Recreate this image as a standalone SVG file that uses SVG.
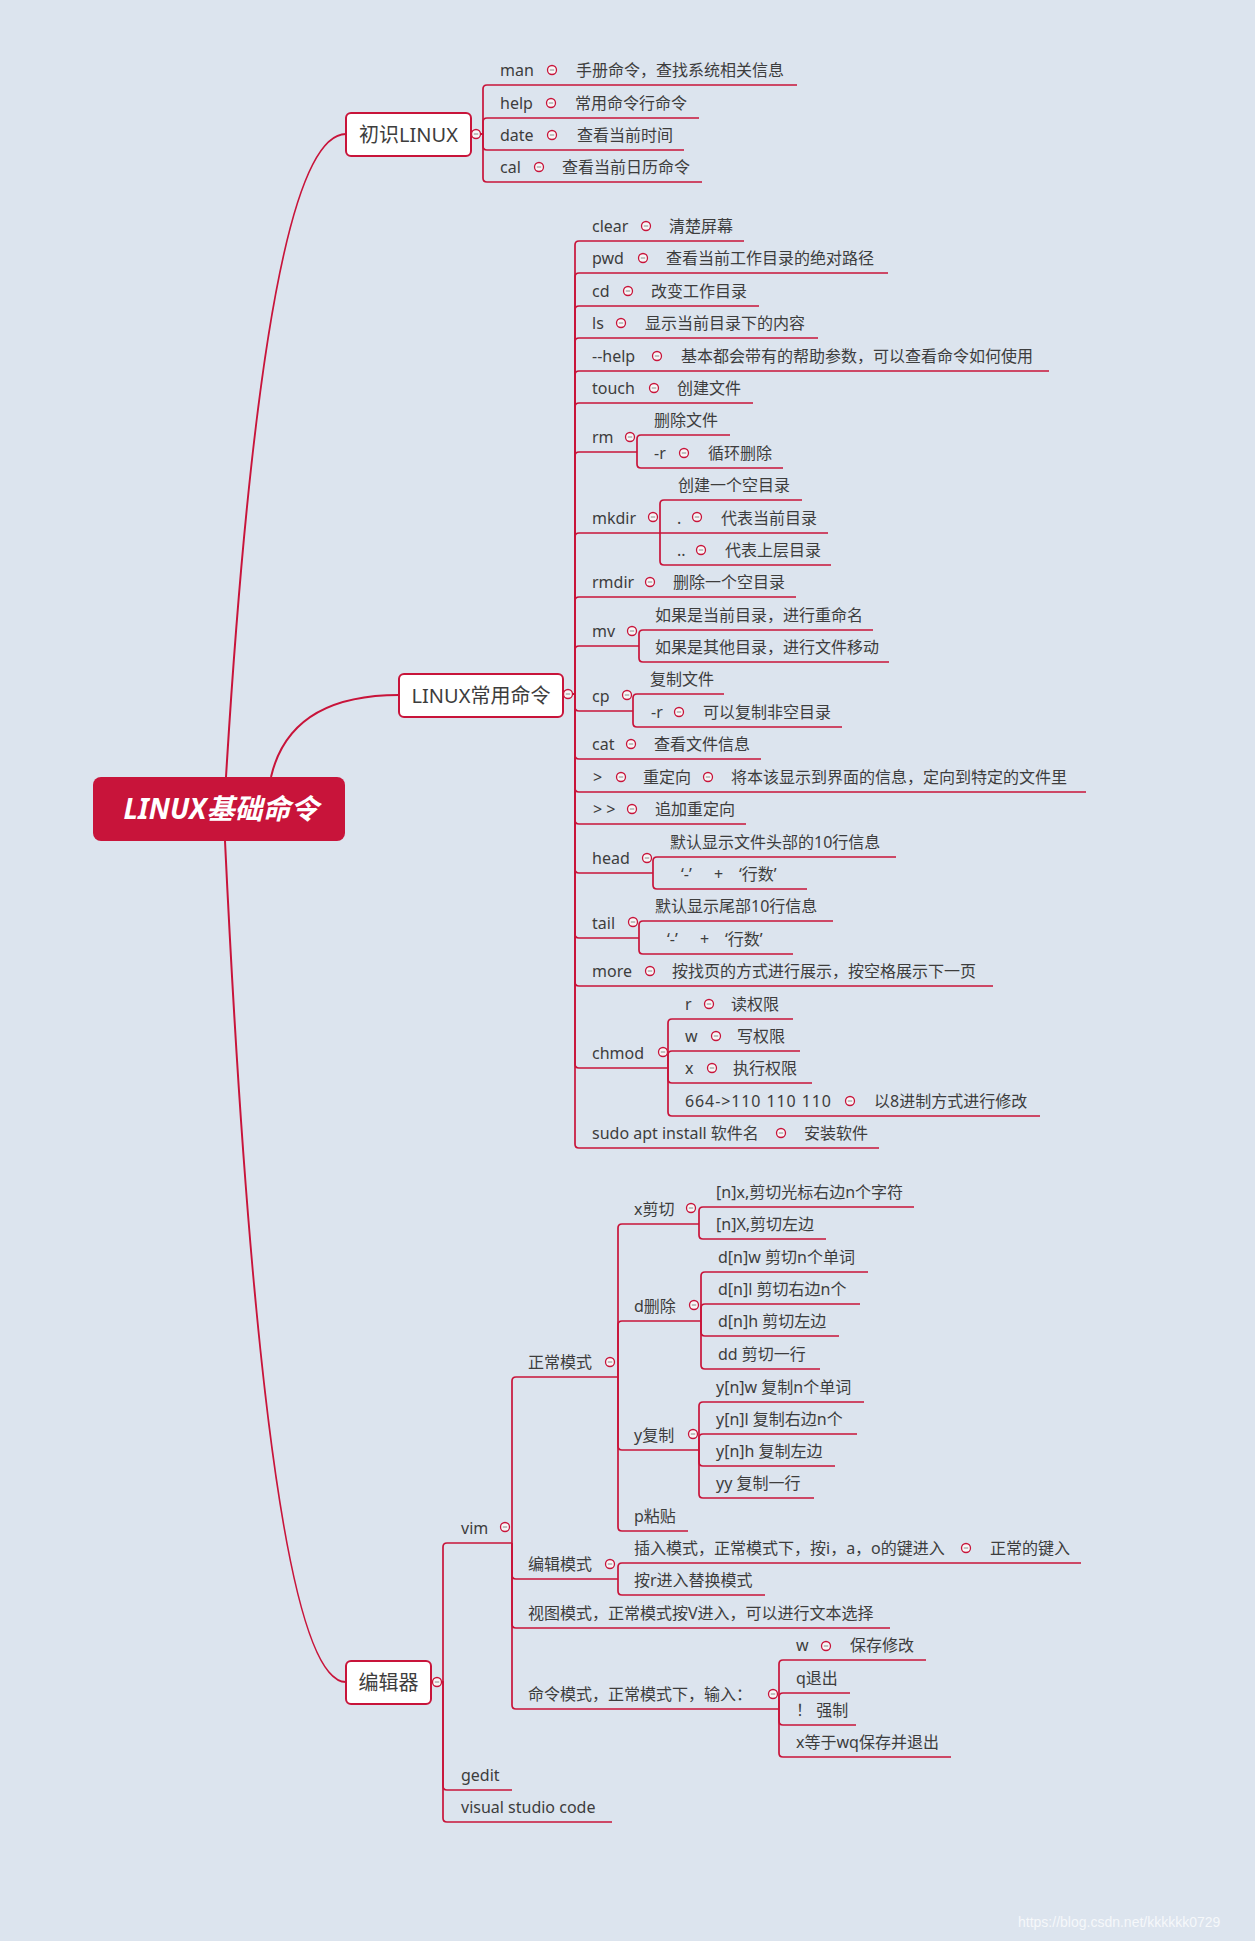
<svg xmlns="http://www.w3.org/2000/svg" xmlns:xlink="http://www.w3.org/1999/xlink" width="1255" height="1941" viewBox="0 0 1255 1941">
<style>
.t{font-family:"Noto Sans","Noto Sans CJK SC",sans-serif;font-size:16px;fill:#3d3d3d}
.b{font-size:20px;text-anchor:middle}
.box{fill:#fff;stroke:#C8143A;stroke-width:2}
.ln{fill:none;stroke:#C8143A;stroke-width:1.7}
.cv{fill:none;stroke:#C8143A;stroke-width:2}
.rt{font-family:"Noto Sans","Noto Sans CJK SC",sans-serif;font-size:28px;font-weight:bold;font-style:italic;fill:#fff;text-anchor:middle}
.wm{font-family:"Liberation Sans",Arial,sans-serif;font-size:14px;fill:#fff;fill-opacity:0.75}
</style>
<defs>
<g id="col"><circle r="4.5" fill="#f7f7f7" stroke="#C8143A" stroke-width="1.3"/><line x1="-2.2" x2="2.2" y1="0" y2="0" stroke="#8a8a8a" stroke-width="1"/></g>
</defs>
<rect width="1255" height="1941" fill="#DCE4EE"/>

<g id="connectors">
<path class="cv" d="M226 777 Q265 134 346 134"/>
<path class="cv" d="M271 777 Q290 695 399 695"/>
<path class="cv" d="M225 841 Q265 1682 346 1682"/>
<path class="ln" d="M481 134 H483 V89 Q483 85 487 85 H797"/>
<path class="ln" d="M481 134 H483 V122 Q483 118 487 118 H699"/>
<path class="ln" d="M481 134 H483 V146 Q483 150 487 150 H684"/>
<path class="ln" d="M481 134 H483 V178 Q483 182 487 182 H702"/>
<path class="ln" d="M573 694 H575 V245 Q575 241 579 241 H744"/>
<path class="ln" d="M573 694 H575 V277 Q575 273 579 273 H888"/>
<path class="ln" d="M573 694 H575 V310 Q575 306 579 306 H759"/>
<path class="ln" d="M573 694 H575 V342 Q575 338 579 338 H818"/>
<path class="ln" d="M573 694 H575 V375 Q575 371 579 371 H1049"/>
<path class="ln" d="M573 694 H575 V407 Q575 403 579 403 H753"/>
<path class="ln" d="M573 694 H575 V456 Q575 452 579 452 H637"/>
<path class="ln" d="M573 694 H575 V537 Q575 533 579 533 H660"/>
<path class="ln" d="M573 694 H575 V601 Q575 597 579 597 H796"/>
<path class="ln" d="M573 694 H575 V650 Q575 646 579 646 H639"/>
<path class="ln" d="M573 694 H575 V707 Q575 711 579 711 H633"/>
<path class="ln" d="M573 694 H575 V755 Q575 759 579 759 H761"/>
<path class="ln" d="M573 694 H575 V788 Q575 792 579 792 H1086"/>
<path class="ln" d="M573 694 H575 V820 Q575 824 579 824 H746"/>
<path class="ln" d="M573 694 H575 V869 Q575 873 579 873 H653"/>
<path class="ln" d="M573 694 H575 V934 Q575 938 579 938 H639"/>
<path class="ln" d="M573 694 H575 V982 Q575 986 579 986 H993"/>
<path class="ln" d="M573 694 H575 V1064 Q575 1068 579 1068 H668"/>
<path class="ln" d="M573 694 H575 V1144 Q575 1148 579 1148 H879"/>
<path class="ln" d="M637 452 V439 Q637 435 641 435 H730"/>
<path class="ln" d="M637 452 V464 Q637 468 641 468 H783"/>
<path class="ln" d="M660 533 V504 Q660 500 664 500 H802"/>
<path class="ln" d="M660 533 H828"/>
<path class="ln" d="M660 533 V561 Q660 565 664 565 H831"/>
<path class="ln" d="M639 646 V634 Q639 630 643 630 H873"/>
<path class="ln" d="M639 646 V658 Q639 662 643 662 H889"/>
<path class="ln" d="M633 711 V698 Q633 694 637 694 H724"/>
<path class="ln" d="M633 711 V723 Q633 727 637 727 H842"/>
<path class="ln" d="M653 873 V861 Q653 857 657 857 H896"/>
<path class="ln" d="M653 873 V885 Q653 889 657 889 H807"/>
<path class="ln" d="M639 938 V925 Q639 921 643 921 H833"/>
<path class="ln" d="M639 938 V950 Q639 954 643 954 H793"/>
<path class="ln" d="M668 1068 V1023 Q668 1019 672 1019 H793"/>
<path class="ln" d="M668 1068 V1055 Q668 1051 672 1051 H800"/>
<path class="ln" d="M668 1068 V1079 Q668 1083 672 1083 H812"/>
<path class="ln" d="M668 1068 V1112 Q668 1116 672 1116 H1040"/>
<path class="ln" d="M442 1682 H443 V1547 Q443 1543 447 1543 H512"/>
<path class="ln" d="M442 1682 H443 V1786 Q443 1790 447 1790 H512"/>
<path class="ln" d="M442 1682 H443 V1818 Q443 1822 447 1822 H612"/>
<path class="ln" d="M512 1543 V1381 Q512 1377 516 1377 H618"/>
<path class="ln" d="M512 1543 V1575 Q512 1579 516 1579 H618"/>
<path class="ln" d="M512 1543 V1624 Q512 1628 516 1628 H890"/>
<path class="ln" d="M512 1543 V1705 Q512 1709 516 1709 H779"/>
<path class="ln" d="M618 1377 V1228 Q618 1224 622 1224 H699"/>
<path class="ln" d="M618 1377 V1325 Q618 1321 622 1321 H701"/>
<path class="ln" d="M618 1377 V1446 Q618 1450 622 1450 H699"/>
<path class="ln" d="M618 1377 V1527 Q618 1531 622 1531 H688"/>
<path class="ln" d="M699 1224 V1211 Q699 1207 703 1207 H914"/>
<path class="ln" d="M699 1224 V1235 Q699 1239 703 1239 H826"/>
<path class="ln" d="M701 1321 V1276 Q701 1272 705 1272 H868"/>
<path class="ln" d="M701 1321 V1308 Q701 1304 705 1304 H860"/>
<path class="ln" d="M701 1321 V1332 Q701 1336 705 1336 H839"/>
<path class="ln" d="M701 1321 V1365 Q701 1369 705 1369 H820"/>
<path class="ln" d="M699 1450 V1406 Q699 1402 703 1402 H864"/>
<path class="ln" d="M699 1450 V1438 Q699 1434 703 1434 H857"/>
<path class="ln" d="M699 1450 V1462 Q699 1466 703 1466 H835"/>
<path class="ln" d="M699 1450 V1494 Q699 1498 703 1498 H814"/>
<path class="ln" d="M618 1579 V1567 Q618 1563 622 1563 H1081"/>
<path class="ln" d="M618 1579 V1591 Q618 1595 622 1595 H765"/>
<path class="ln" d="M779 1709 V1664 Q779 1660 783 1660 H926"/>
<path class="ln" d="M779 1709 V1697 Q779 1693 783 1693 H850"/>
<path class="ln" d="M779 1709 V1721 Q779 1725 783 1725 H856"/>
<path class="ln" d="M779 1709 V1753 Q779 1757 783 1757 H951"/>
</g>

<g id="root">
<rect x="93" y="777" width="252" height="64" rx="8" fill="#C8143A"/>
<text class="rt" x="221" y="819">LINUX基础命令</text>
</g>

<g id="n-chushi">
<rect class="box" x="346" y="113" width="125" height="43" rx="5"/>
<text class="t b" x="408.5" y="141.5">初识LINUX</text>
<use xlink:href="#col" x="476" y="134"/>
</g>
<g id="n-man"><text class="t" x="500" y="76">man</text><use xlink:href="#col" x="552" y="70"/><text class="t" x="576" y="76">手册命令，查找系统相关信息</text></g>
<g id="n-help"><text class="t" x="500" y="109">help</text><use xlink:href="#col" x="551" y="103"/><text class="t" x="575" y="109">常用命令行命令</text></g>
<g id="n-date"><text class="t" x="500" y="141">date</text><use xlink:href="#col" x="552" y="135"/><text class="t" x="577" y="141">查看当前时间</text></g>
<g id="n-cal"><text class="t" x="500" y="173">cal</text><use xlink:href="#col" x="539" y="167"/><text class="t" x="562" y="173">查看当前日历命令</text></g>

<g id="n-changyong">
<rect class="box" x="399" y="674" width="164" height="43" rx="5"/>
<text class="t b" x="481" y="702.5">LINUX常用命令</text>
<use xlink:href="#col" x="568" y="694"/>
</g>
<g id="n-clear"><text class="t" x="592" y="232">clear</text><use xlink:href="#col" x="646" y="226"/><text class="t" x="669" y="232">清楚屏幕</text></g>
<g id="n-pwd"><text class="t" x="592" y="264">pwd</text><use xlink:href="#col" x="643" y="258"/><text class="t" x="666" y="264">查看当前工作目录的绝对路径</text></g>
<g id="n-cd"><text class="t" x="592" y="297">cd</text><use xlink:href="#col" x="628" y="291"/><text class="t" x="651" y="297">改变工作目录</text></g>
<g id="n-ls"><text class="t" x="592" y="329">ls</text><use xlink:href="#col" x="621" y="323"/><text class="t" x="645" y="329">显示当前目录下的内容</text></g>
<g id="n-dhelp"><text class="t" x="592" y="362">--help</text><use xlink:href="#col" x="657" y="356"/><text class="t" x="681" y="362">基本都会带有的帮助参数，可以查看命令如何使用</text></g>
<g id="n-touch"><text class="t" x="592" y="394">touch</text><use xlink:href="#col" x="654" y="388"/><text class="t" x="677" y="394">创建文件</text></g>
<g id="n-rm"><text class="t" x="592" y="443">rm</text><use xlink:href="#col" x="630" y="437"/></g>
<g id="n-rm1"><text class="t" x="654" y="426">删除文件</text></g>
<g id="n-rm2"><text class="t" x="654" y="459">-r</text><use xlink:href="#col" x="684" y="453"/><text class="t" x="708" y="459">循环删除</text></g>
<g id="n-mkdir"><text class="t" x="592" y="524">mkdir</text><use xlink:href="#col" x="653" y="517"/></g>
<g id="n-mkdir1"><text class="t" x="678" y="491">创建一个空目录</text></g>
<g id="n-mkdir2"><text class="t" x="677" y="524">.</text><use xlink:href="#col" x="697" y="517"/><text class="t" x="721" y="524">代表当前目录</text></g>
<g id="n-mkdir3"><text class="t" x="677" y="556">..</text><use xlink:href="#col" x="701" y="550"/><text class="t" x="725" y="556">代表上层目录</text></g>
<g id="n-rmdir"><text class="t" x="592" y="588">rmdir</text><use xlink:href="#col" x="650" y="582"/><text class="t" x="673" y="588">删除一个空目录</text></g>
<g id="n-mv"><text class="t" x="592" y="637">mv</text><use xlink:href="#col" x="632" y="631"/></g>
<g id="n-mv1"><text class="t" x="655" y="621">如果是当前目录，进行重命名</text></g>
<g id="n-mv2"><text class="t" x="655" y="653">如果是其他目录，进行文件移动</text></g>
<g id="n-cp"><text class="t" x="592" y="702">cp</text><use xlink:href="#col" x="627" y="695"/></g>
<g id="n-cp1"><text class="t" x="650" y="685">复制文件</text></g>
<g id="n-cp2"><text class="t" x="651" y="718">-r</text><use xlink:href="#col" x="679" y="712"/><text class="t" x="703" y="718">可以复制非空目录</text></g>
<g id="n-cat"><text class="t" x="592" y="750">cat</text><use xlink:href="#col" x="631" y="744"/><text class="t" x="654" y="750">查看文件信息</text></g>
<g id="n-gt"><text class="t" x="593" y="783">&gt;</text><use xlink:href="#col" x="621" y="777"/><text class="t" x="643" y="783">重定向</text><use xlink:href="#col" x="708" y="777"/><text class="t" x="731" y="783">将本该显示到界面的信息，定向到特定的文件里</text></g>
<g id="n-gtgt"><text class="t" x="593" y="815">&gt; &gt;</text><use xlink:href="#col" x="632" y="809"/><text class="t" x="655" y="815">追加重定向</text></g>
<g id="n-head"><text class="t" x="592" y="864">head</text><use xlink:href="#col" x="647" y="858"/></g>
<g id="n-head1"><text class="t" x="670" y="848">默认显示文件头部的10行信息</text></g>
<g id="n-head2"><text class="t" y="880"><tspan x="681">‘-’</tspan><tspan x="714">+</tspan><tspan x="739">‘行数’</tspan></text></g>
<g id="n-tail"><text class="t" x="592" y="929">tail</text><use xlink:href="#col" x="633" y="922"/></g>
<g id="n-tail1"><text class="t" x="655" y="912">默认显示尾部10行信息</text></g>
<g id="n-tail2"><text class="t" y="945"><tspan x="667">‘-’</tspan><tspan x="700">+</tspan><tspan x="725">‘行数’</tspan></text></g>
<g id="n-more"><text class="t" x="592" y="977">more</text><use xlink:href="#col" x="650" y="971"/><text class="t" x="672" y="977">按找页的方式进行展示，按空格展示下一页</text></g>
<g id="n-chmod"><text class="t" x="592" y="1059">chmod</text><use xlink:href="#col" x="663" y="1052"/></g>
<g id="n-chmod-r"><text class="t" x="685" y="1010">r</text><use xlink:href="#col" x="709" y="1004"/><text class="t" x="731" y="1010">读权限</text></g>
<g id="n-chmod-w"><text class="t" x="685" y="1042">w</text><use xlink:href="#col" x="716" y="1036"/><text class="t" x="737" y="1042">写权限</text></g>
<g id="n-chmod-x"><text class="t" x="685" y="1074">x</text><use xlink:href="#col" x="712" y="1068"/><text class="t" x="733" y="1074">执行权限</text></g>
<g id="n-chmod-n"><text class="t" x="685" y="1107" letter-spacing="0.9">664-&gt;110 110 110</text><use xlink:href="#col" x="850" y="1101"/><text class="t" x="874" y="1107">以8进制方式进行修改</text></g>
<g id="n-sudo"><text class="t" x="592" y="1139">sudo apt install 软件名</text><use xlink:href="#col" x="781" y="1133"/><text class="t" x="804" y="1139">安装软件</text></g>

<g id="n-editor">
<rect class="box" x="346" y="1661" width="85" height="43" rx="5"/>
<text class="t b" x="388.5" y="1690">编辑器</text>
<use xlink:href="#col" x="437" y="1682"/>
</g>
<g id="n-vim"><text class="t" x="461" y="1534">vim</text><use xlink:href="#col" x="505" y="1527"/></g>
<g id="n-normal"><text class="t" x="528" y="1368">正常模式</text><use xlink:href="#col" x="610" y="1362"/></g>
<g id="n-xcut"><text class="t" x="634" y="1215">x剪切</text><use xlink:href="#col" x="691" y="1208"/></g>
<g id="n-xcut1"><text class="t" x="716" y="1198">[n]x,剪切光标右边n个字符</text></g>
<g id="n-xcut2"><text class="t" x="716" y="1230">[n]X,剪切左边</text></g>
<g id="n-ddel"><text class="t" x="634" y="1312">d删除</text><use xlink:href="#col" x="694" y="1305"/></g>
<g id="n-ddel1"><text class="t" x="718" y="1263">d[n]w 剪切n个单词</text></g>
<g id="n-ddel2"><text class="t" x="718" y="1295">d[n]l 剪切右边n个</text></g>
<g id="n-ddel3"><text class="t" x="718" y="1327">d[n]h 剪切左边</text></g>
<g id="n-ddel4"><text class="t" x="718" y="1360">dd 剪切一行</text></g>
<g id="n-ycopy"><text class="t" x="634" y="1441">y复制</text><use xlink:href="#col" x="693" y="1434"/></g>
<g id="n-ycopy1"><text class="t" x="716" y="1393">y[n]w 复制n个单词</text></g>
<g id="n-ycopy2"><text class="t" x="716" y="1425">y[n]l 复制右边n个</text></g>
<g id="n-ycopy3"><text class="t" x="716" y="1457">y[n]h 复制左边</text></g>
<g id="n-ycopy4"><text class="t" x="716" y="1489">yy 复制一行</text></g>
<g id="n-paste"><text class="t" x="634" y="1522">p粘贴</text></g>
<g id="n-edit"><text class="t" x="528" y="1570">编辑模式</text><use xlink:href="#col" x="610" y="1564"/></g>
<g id="n-edit1"><text class="t" x="634" y="1554">插入模式，正常模式下，按i，a，o的键进入</text><use xlink:href="#col" x="966" y="1548"/><text class="t" x="990" y="1554">正常的键入</text></g>
<g id="n-edit2"><text class="t" x="634" y="1586">按r进入替换模式</text></g>
<g id="n-view"><text class="t" x="528" y="1619">视图模式，正常模式按V进入，可以进行文本选择</text></g>
<g id="n-cmd"><text class="t" x="528" y="1700">命令模式，正常模式下，输入：</text><use xlink:href="#col" x="773" y="1694"/></g>
<g id="n-cmd-w"><text class="t" x="796" y="1651">w</text><use xlink:href="#col" x="826" y="1646"/><text class="t" x="850" y="1651">保存修改</text></g>
<g id="n-cmd-q"><text class="t" x="796" y="1684">q退出</text></g>
<g id="n-cmd-f"><text class="t" x="796" y="1716">！ 强制</text></g>
<g id="n-cmd-x"><text class="t" x="796" y="1748">x等于wq保存并退出</text></g>
<g id="n-gedit"><text class="t" x="461" y="1781">gedit</text></g>
<g id="n-vsc"><text class="t" x="461" y="1813">visual studio code</text></g>

<text class="wm" x="1018" y="1927">https://blog.csdn.net/kkkkkk0729</text>
</svg>
